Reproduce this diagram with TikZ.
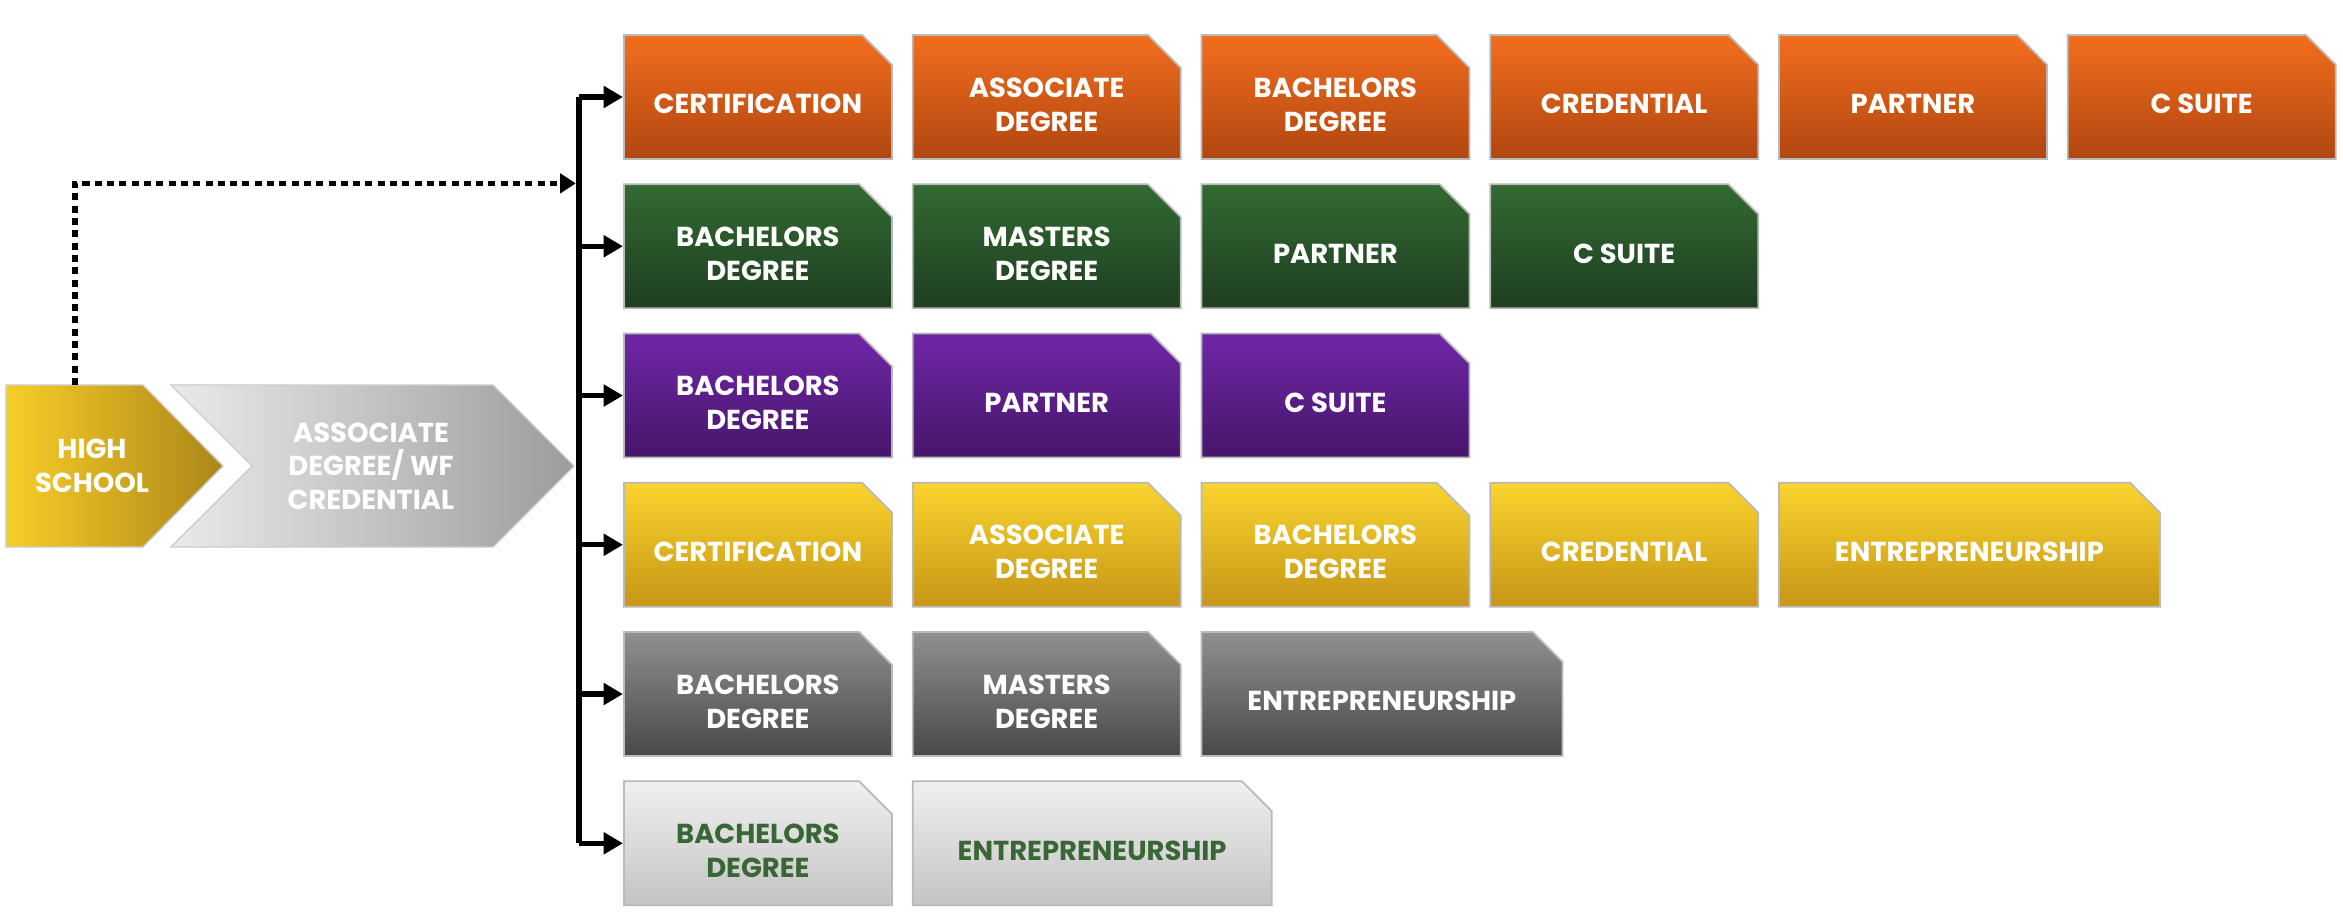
\documentclass[tikz,border=0pt]{standalone}
\usepackage{fontspec}
\setmainfont{Poppins}
\usepackage{tikz}
\usetikzlibrary{shapes, arrows.meta, positioning, calc}
\definecolor{orangetop}{RGB}{243, 110, 30}
\definecolor{orangebot}{RGB}{176, 70, 16}
\definecolor{greentop}{RGB}{50, 106, 50}
\definecolor{greenbot}{RGB}{30, 62, 32}
\definecolor{purpletop}{RGB}{112, 38, 168}
\definecolor{purplebot}{RGB}{70, 22, 106}
\definecolor{yellowtop}{RGB}{250, 212, 46}
\definecolor{yellowbot}{RGB}{198, 150, 22}
\definecolor{graytop}{RGB}{142, 144, 146}
\definecolor{graybot}{RGB}{70, 72, 74}
\definecolor{lighttop}{RGB}{240, 240, 240}
\definecolor{lightbot}{RGB}{196, 196, 198}
\definecolor{leafgreen}{RGB}{56, 102, 52}
\definecolor{hsleft}{RGB}{248, 206, 40}
\definecolor{hsright}{RGB}{172, 134, 24}
\definecolor{wfleft}{RGB}{234, 234, 234}
\definecolor{wfright}{RGB}{156, 156, 156}

\begin{document}
\begin{tikzpicture}[
  stage/.style={chamfered rectangle, chamfered rectangle corners=north east,
    chamfered rectangle xsep=0.2cm,
    minimum width=2.68cm, minimum height=1.24cm, inner sep=0pt,
    draw=gray!55, line width=0.5pt, text=white, align=center,
    text height=9.6pt, text depth=0pt,
    font=\bfseries\fontsize{7.8}{9.7}\selectfont},
  twolines/.style={text height=19.4pt, text depth=0pt},
  orangebox/.style={stage, top color=orangetop, bottom color=orangebot},
  greenbox/.style={stage, top color=greentop, bottom color=greenbot},
  purplebox/.style={stage, top color=purpletop, bottom color=purplebot},
  yellowbox/.style={stage, top color=yellowtop, bottom color=yellowbot},
  graybox/.style={stage, top color=graytop, bottom color=graybot},
  lightbox/.style={stage, top color=lighttop, bottom color=lightbot, text=leafgreen},
  wide/.style={minimum width=#1},
  chevtext/.style={text=white, align=center, inner sep=0pt,
    font=\bfseries\fontsize{7.8}{9.5}\selectfont},
  chevedge/.style={draw=gray!40, line width=0.4pt},
  branch/.style={line width=1.5pt, -{Triangle[length=5.5pt, width=6pt]}},
  trunk/.style={line width=1.5pt},
  dotline/.style={line width=1.6pt, dash pattern=on 2pt off 1.5pt,
    -{Triangle[length=4.5pt, width=5.5pt]}}
]
\fill[white] (0,0) rectangle (23.43,9.14);
\useasboundingbox (0,0) rectangle (23.43,9.14);

% high school and associate degree chevrons
\shade[chevedge, left color=hsleft, right color=hsright]
  (0.06,5.29) -- (1.43,5.29) -- (2.23,4.48) -- (1.43,3.67) -- (0.06,3.67) -- cycle;
\shade[chevedge, left color=wfleft, right color=wfright]
  (1.71,5.29) -- (4.93,5.29) -- (5.74,4.48) -- (4.93,3.67) -- (1.71,3.67) -- (2.52,4.48) -- cycle;
\node[chevtext] (hs) at (0.92,4.48) {HIGH\\SCHOOL};
\node[chevtext] (wf) at (3.71,4.48) {ASSOCIATE\\DEGREE/ WF\\CREDENTIAL};
\coordinate (hstop) at (0.75,5.29);

\node[orangebox, anchor=west] (o1) at (6.23,8.17) {CERTIFICATION};
\node[orangebox, twolines, right=0.19cm of o1] (o2) {ASSOCIATE\\DEGREE};
\node[orangebox, twolines, right=0.19cm of o2] (o3) {BACHELORS\\DEGREE};
\node[orangebox, right=0.19cm of o3] (o4) {CREDENTIAL};
\node[orangebox, right=0.19cm of o4] (o5) {PARTNER};
\node[orangebox, right=0.19cm of o5] (o6) {C SUITE};

\node[greenbox, twolines, below=0.235cm of o1] (g1) {BACHELORS\\DEGREE};
\node[greenbox, twolines, right=0.19cm of g1] (g2) {MASTERS\\DEGREE};
\node[greenbox, right=0.19cm of g2] (g3) {PARTNER};
\node[greenbox, right=0.19cm of g3] (g4) {C SUITE};

\node[purplebox, twolines, below=0.235cm of g1] (p1) {BACHELORS\\DEGREE};
\node[purplebox, right=0.19cm of p1] (p2) {PARTNER};
\node[purplebox, right=0.19cm of p2] (p3) {C SUITE};

\node[yellowbox, below=0.235cm of p1] (y1) {CERTIFICATION};
\node[yellowbox, twolines, right=0.19cm of y1] (y2) {ASSOCIATE\\DEGREE};
\node[yellowbox, twolines, right=0.19cm of y2] (y3) {BACHELORS\\DEGREE};
\node[yellowbox, right=0.19cm of y3] (y4) {CREDENTIAL};
\node[yellowbox, wide=3.81cm, right=0.19cm of y4] (y5) {ENTREPRENEURSHIP};

\node[graybox, twolines, below=0.235cm of y1] (k1) {BACHELORS\\DEGREE};
\node[graybox, twolines, right=0.19cm of k1] (k2) {MASTERS\\DEGREE};
\node[graybox, wide=3.61cm, right=0.19cm of k2] (k3) {ENTREPRENEURSHIP};

\node[lightbox, twolines, below=0.235cm of k1] (l1) {BACHELORS\\DEGREE};
\node[lightbox, wide=3.59cm, right=0.19cm of l1] (l2) {ENTREPRENEURSHIP};

% trunk and branches
\coordinate (bus) at (5.79,0);
\draw[trunk] (o1.west -| bus) -- (l1.west -| bus);
\draw[branch] (o1.west -| bus) -- (o1.west);
\draw[branch] (g1.west -| bus) -- (g1.west);
\draw[branch] (p1.west -| bus) -- (p1.west);
\draw[branch] (y1.west -| bus) -- (y1.west);
\draw[branch] (k1.west -| bus) -- (k1.west);
\draw[branch] (l1.west -| bus) -- (l1.west);

\draw[dotline] (hstop) |- ([xshift=-0.9pt]g1.north -| bus);
\end{tikzpicture}
\end{document}
